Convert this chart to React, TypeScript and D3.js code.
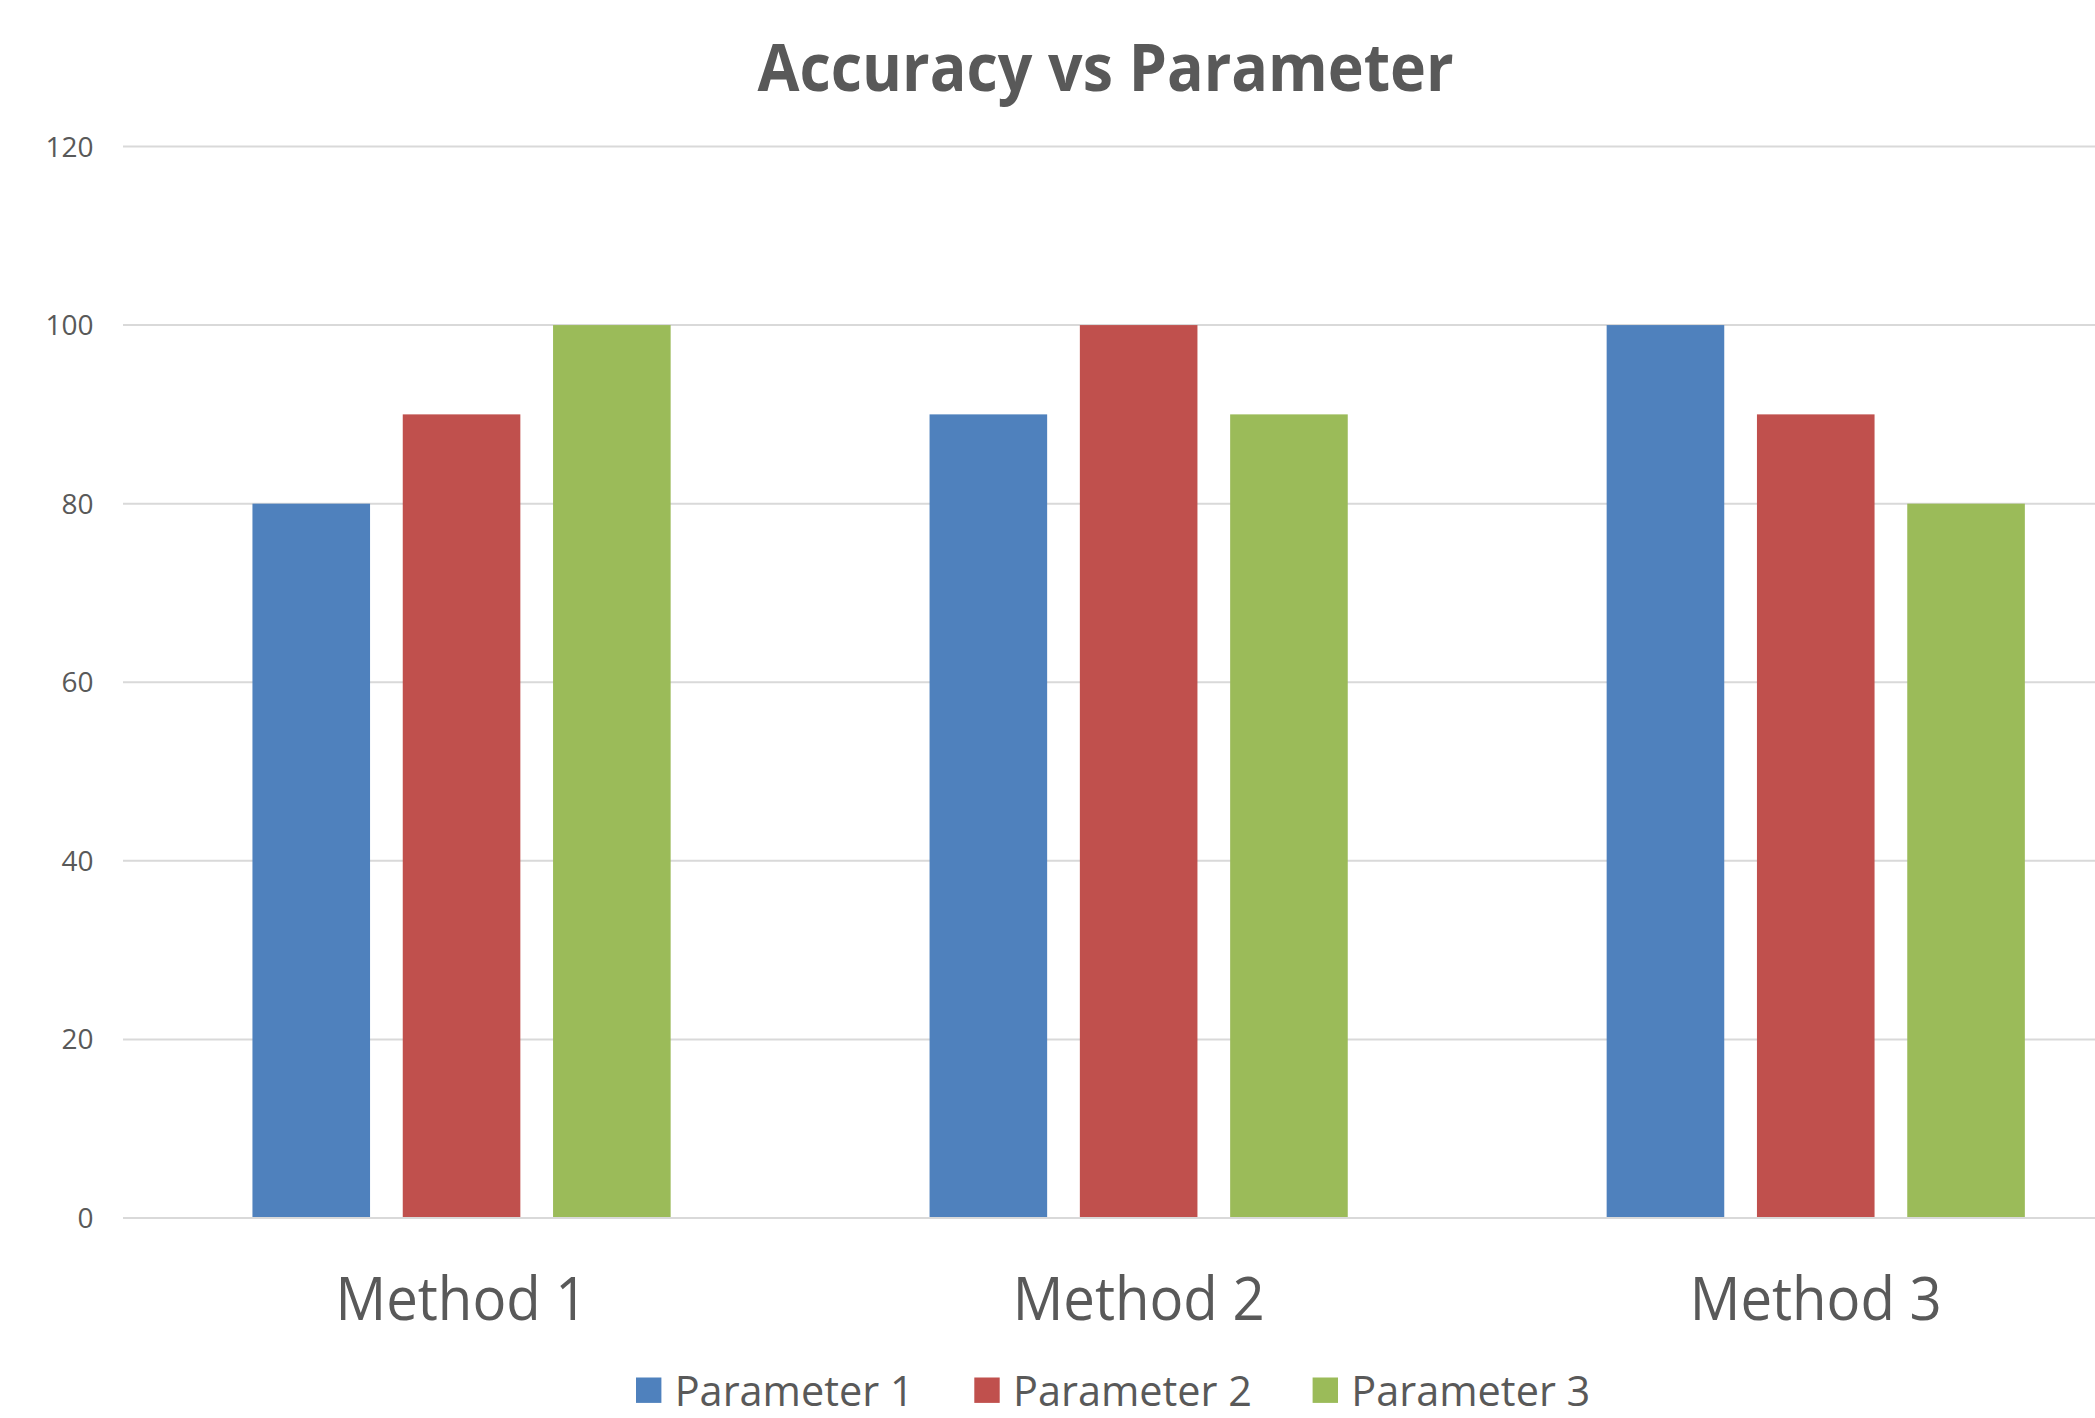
import React from 'react';
import * as d3 from 'd3';

const categories = ['Method 1', 'Method 2', 'Method 3'];
const seriesNames = ['Parameter 1', 'Parameter 2', 'Parameter 3'];
const param1 = [80, 90, 100];
const param2 = [90, 100, 90];
const param3 = [100, 90, 80];
const seriesValues = [param1, param2, param3];
const yTicks = [0, 20, 40, 60, 80, 100, 120];
const colors = ['#4F81BD', '#C0504D', '#9BBB59'];
const titleText = 'Accuracy vs Parameter';

const W = 2095;
const H = 1418;
const FONT = "'Open Sans', 'Noto Sans', sans-serif";
const TEXT = '#595959';

export default function App() {
  const plotLeft = 123;
  const catStep = 677.1;
  const barPitch = 150.3;
  const barW = 117.6;
  const yTop = 146.5;
  const yBottom = 1218;

  const x = d3
    .scaleBand<string>()
    .domain(categories)
    .range([plotLeft, plotLeft + catStep * categories.length])
    .padding(0);

  const pi = 1 - barW / barPitch;
  const inner = d3
    .scaleBand<string>()
    .domain(seriesNames)
    .range([catStep / 2 - 1.5 * barPitch, catStep / 2 + 1.5 * barPitch])
    .paddingInner(pi)
    .paddingOuter(pi / 2);

  const y = d3.scaleLinear().domain([0, 120]).range([yBottom, yTop]);

  const gridRight = x.range()[1];

  // legend
  const legendStart = 636;
  const legendPitch = 338.3;
  const sq = 25.4;
  const textOffset = 38.7;

  return (
    <svg
      width={W}
      height={H}
      style={{ position: 'absolute', left: 0, top: 0, display: 'block', background: '#fff', overflow: 'hidden' }}
    >
      <rect x={0} y={0} width={W} height={H} fill="#ffffff" />
      <text
        x={1105.6}
        y={90.8}
        textAnchor="middle"
        fontFamily={FONT}
        fontWeight={700}
        fontSize={67}
        fill={TEXT}
        textLength={696}
        lengthAdjust="spacingAndGlyphs"
      >
        {titleText}
      </text>

      {yTicks.map((t) => (
        <g key={t}>
          {t !== 0 && (
            <line x1={plotLeft} x2={gridRight} y1={y(t)} y2={y(t)} stroke="#d9d9d9" strokeWidth={2} />
          )}
          <text
            x={93.5}
            y={y(t) + 10}
            textAnchor="end"
            fontFamily={FONT}
            fontSize={28}
            fill={TEXT}
          >
            {t}
          </text>
        </g>
      ))}

      {categories.map((c, ci) => (
        <g key={c} transform={`translate(${x(c)},0)`}>
          {seriesNames.map((s, si) => {
            const v = seriesValues[si][ci];
            return (
              <rect
                key={s}
                x={inner(s)}
                y={y(v)}
                width={inner.bandwidth()}
                height={y(0) - y(v)}
                fill={colors[si]}
              />
            );
          })}
        </g>
      ))}

      <line x1={plotLeft} x2={gridRight} y1={y(0)} y2={y(0)} stroke="#d9d9d9" strokeWidth={2} />

      {categories.map((c) => (
        <text
          key={c}
          x={(x(c) as number) + x.bandwidth() / 2}
          y={1320}
          textAnchor="middle"
          fontFamily={FONT}
          fontSize={60}
          fill={TEXT}
          textLength={252}
          lengthAdjust="spacingAndGlyphs"
        >
          {c}
        </text>
      ))}

      {seriesNames.map((s, i) => {
        const lx = legendStart + i * legendPitch;
        return (
          <g key={s}>
            <rect x={lx} y={1377.5} width={sq} height={sq} fill={colors[i]} />
            <text
              x={lx + textOffset}
              y={1405.6}
              fontFamily={FONT}
              fontSize={42}
              fill={TEXT}
              textLength={239}
              lengthAdjust="spacingAndGlyphs"
            >
              {s}
            </text>
          </g>
        );
      })}
    </svg>
  );
}
